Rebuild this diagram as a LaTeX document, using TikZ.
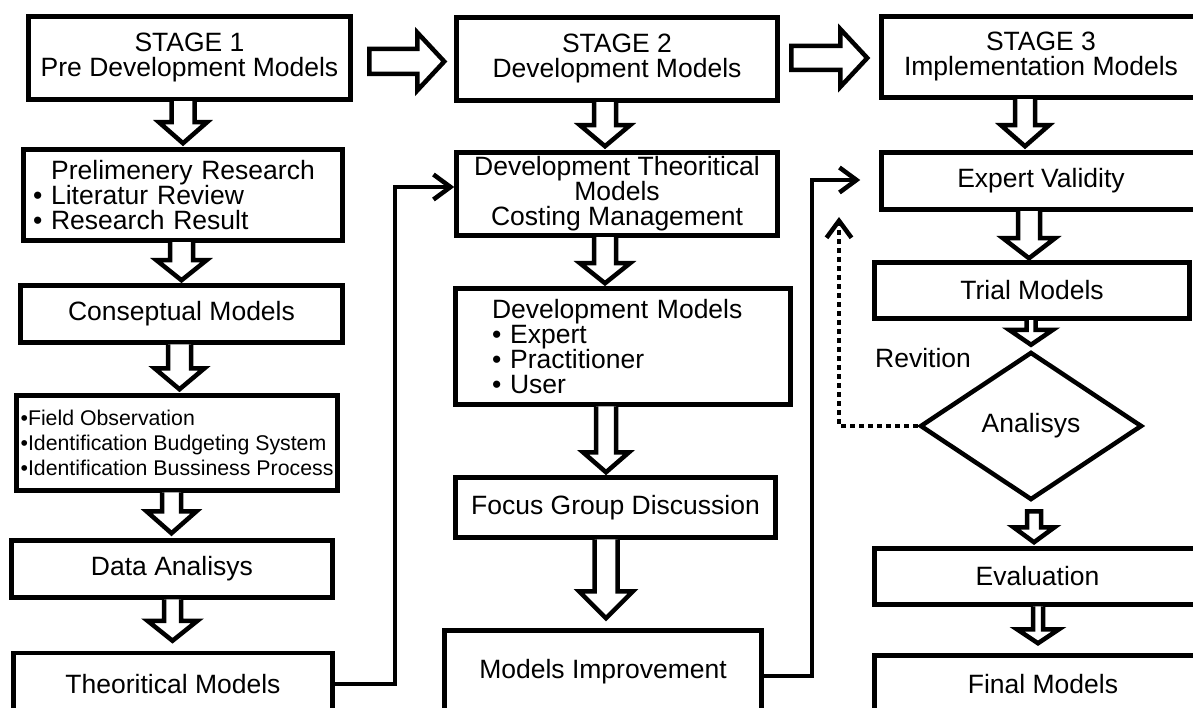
\documentclass[tikz,border=0pt]{standalone}
\usepackage{fontspec}
\setmainfont{Liberation Sans}
\usetikzlibrary{arrows.meta,calc,shapes.geometric}

% Hollow block arrow pointing down, open at the top so it merges with the box above.
% #1 x, #2 source node, #3 target node, #4 shaft half width, #5 head half width,
% #6 head length, #7 gap between tip and target
\newcommand\blkdown[7]{%
  \draw[blk] let \p1=(#2.south), \p2=(#3.north) in
    (#1pt-#4pt,\y1+0.5pt) -- (#1pt-#4pt,\y2+#7pt+#6pt) -- (#1pt-#5pt,\y2+#7pt+#6pt)
    -- (#1pt,\y2+#7pt) -- (#1pt+#5pt,\y2+#7pt+#6pt) -- (#1pt+#4pt,\y2+#7pt+#6pt)
    -- (#1pt+#4pt,\y1+0.5pt);}
% Closed hollow block arrow pointing down, detached from both nodes.
% #8 gap between source and the top of the shaft
\newcommand\blkdownfree[8]{%
  \draw[blk] let \p1=(#2.south), \p2=(#3.north) in
    (#1pt-#4pt,\y1-#8pt) -- (#1pt-#4pt,\y2+#7pt+#6pt) -- (#1pt-#5pt,\y2+#7pt+#6pt)
    -- (#1pt,\y2+#7pt) -- (#1pt+#5pt,\y2+#7pt+#6pt) -- (#1pt+#4pt,\y2+#7pt+#6pt)
    -- (#1pt+#4pt,\y1-#8pt) -- cycle;}
% Closed hollow block arrow pointing right.
% #1 y, #2 source, #3 target, #4 start gap, #5 end gap, #6 shaft half width,
% #7 head half width, #8 head length
\newcommand\blkright[8]{%
  \draw[blk] let \p1=(#2.east), \p2=(#3.west) in
    (\x1+#4pt,-#1pt+#6pt) -- (\x2-#5pt-#8pt,-#1pt+#6pt) -- (\x2-#5pt-#8pt,-#1pt+#7pt)
    -- (\x2-#5pt,-#1pt) -- (\x2-#5pt-#8pt,-#1pt-#7pt) -- (\x2-#5pt-#8pt,-#1pt-#6pt)
    -- (\x1+#4pt,-#1pt-#6pt) -- cycle;}

\begin{document}
\begin{tikzpicture}[x=1pt,y=-1pt,
  box/.style={draw, line width=4.5pt, rectangle, inner sep=0pt, align=center,
    font=\fontsize{26.5pt}{25pt}\selectfont},
  decision/.style={draw, line width=4.5pt, diamond, inner sep=0pt,
    font=\fontsize{26.5pt}{25pt}\selectfont},
  plain/.style={inner sep=0pt, font=\fontsize{26.5pt}{25pt}\selectfont},
  blk/.style={draw, fill=white, line width=4.5pt, line join=miter},
  conn/.style={line width=4.5pt, -{Straight Barb[length=17pt,width=25pt]}},
  dotconn/.style={line width=4.5pt, dash pattern=on 5pt off 4pt,
    -{Straight Barb[length=17pt,width=25pt]}}]

\useasboundingbox (0,0) rectangle (1193,708);
\fill[white] (0,0) rectangle (1193,708);
\clip (0,0) rectangle (1193,708);

% ---- Stage 1 column
\node[box, minimum width=322pt, minimum height=83pt] (s1) at (189.5,58)
  {STAGE 1\\Pre Development Models};
\node[box, minimum width=319pt, minimum height=91pt, text width=300pt, align=left] (pre) at (183,195)
  {\makebox[300pt]{Prelimenery Research}\\• Literatur Review\\• Research Result};
\node[box, minimum width=322pt, minimum height=57pt] (con) at (181.5,314) {Conseptual Models};
\node[box, minimum width=321pt, minimum height=95pt, align=left,
  font=\fontsize{21.3pt}{25pt}\selectfont] (fo) at (177,443)
  {•Field Observation\\•Identification Budgeting System\\•Identification Bussiness Process};
\node[box, minimum width=321pt, minimum height=57pt] (da) at (172,569) {Data Analisys};
\node[box, minimum width=319pt, minimum height=62pt] (th) at (173,684) {Theoritical Models};

% ---- Stage 2 column
\node[box, minimum width=321pt, minimum height=83pt] (s2) at (617,59)
  {STAGE 2\\Development Models};
\node[box, minimum width=321pt, minimum height=83pt] (dth) at (617,194)
  {Development Theoritical\\Models\\Costing Management};
\node[box, minimum width=335pt, minimum height=116pt, text width=262pt, align=left] (dm) at (623,346.5)
  {Development Models\\• Expert\\• Practitioner\\• User};
\node[box, minimum width=320pt, minimum height=60pt] (fg) at (615.5,507.5) {Focus Group Discussion};
\node[box, minimum width=317pt, minimum height=83pt] (mi) at (603,672) {Models Improvement};

% ---- Stage 3 column
\node[box, minimum width=319pt, minimum height=81pt] (s3) at (1041,57)
  {STAGE 3\\Implementation Models};
\node[box, minimum width=319pt, minimum height=57pt] (ev) at (1041,181) {Expert Validity};
\node[box, minimum width=315pt, minimum height=56pt] (tri) at (1032,290.5) {Trial Models};
\node[decision, minimum width=222pt, minimum height=148pt] (ana) at (1031,426) {Analisys};
\node[plain] (rev) at (923,358) {Revition};
\node[box, minimum width=326pt, minimum height=56pt] (evl) at (1037.5,576.5) {Evaluation};
\node[box, minimum width=337pt, minimum height=57pt] (fm) at (1043,684) {Final Models};

% ---- stage-to-stage block arrows
\blkright{61.5}{s1}{s2}{16.5}{10}{12.5}{29}{27}
\blkright{58}{s2}{s3}{11.5}{12}{12}{29}{27}

% ---- block arrows down each column
\blkdown{183}{s1}{pre}{11.5}{24}{21}{4}
\blkdown{181.5}{pre}{con}{11.5}{25}{20}{3}
\blkdown{179.5}{con}{fo}{11.5}{25}{21}{4}
\blkdown{171.5}{fo}{da}{9.5}{25}{22}{5}
\blkdown{172.5}{da}{th}{8.5}{25}{20}{10}

\blkdown{605}{s2}{dth}{11}{25}{21}{4}
\blkdown{605}{dth}{dm}{11}{25}{20}{3}
\blkdown{606}{dm}{fg}{10}{23}{20}{3}
\blkdown{606}{fg}{mi}{11.5}{27}{27}{10}

\blkdown{1025}{s3}{ev}{10}{24}{21}{4}
\blkdown{1029}{ev}{tri}{11}{26}{20}{2}
\blkdown{1031}{tri}{ana}{4.5}{22}{15}{5}
\blkdownfree{1034}{ana}{evl}{7}{20.5}{15}{4}{9}
\blkdown{1038}{evl}{fm}{5}{21}{14}{10}

% ---- feedback connectors
\coordinate (k1) at (395,187);
\coordinate (k2) at (812,180);
\coordinate (k4) at (839,217);
\draw[conn] (th.east) -| (k1) -- (dth.west |- k1);
\draw[conn, shorten >=19pt] ([yshift=-4pt]mi.east) -| (k2) -- (ev.west |- k2);
\draw[dotconn] (ana.west) -| (k4);

\end{tikzpicture}
\end{document}
